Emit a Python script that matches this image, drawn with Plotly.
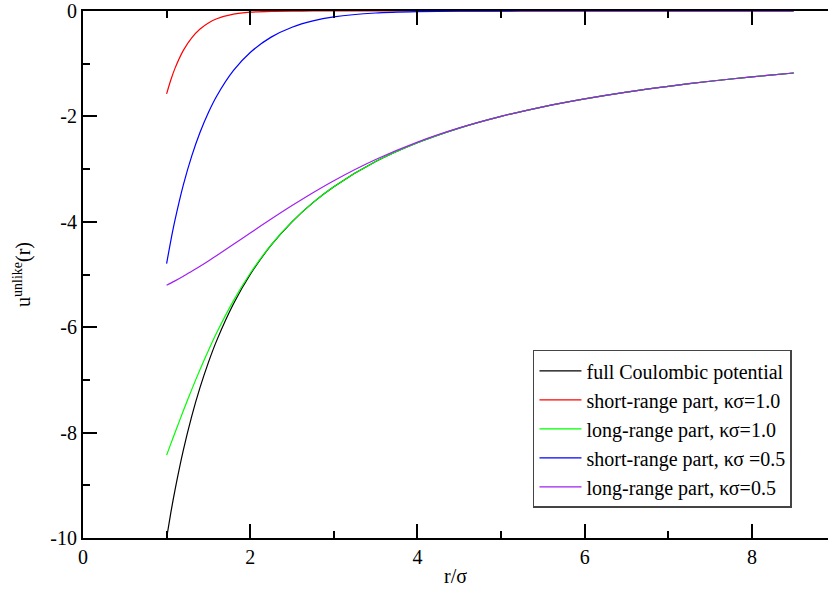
import plotly.graph_objects as go

# Separation r/sigma at which the potentials are tabulated
r = [1.0, 1.05, 1.1, 1.2, 1.3, 1.4, 1.5, 1.6, 1.8, 2.0, 2.25, 2.5, 2.75,
     3.0, 3.5, 4.0, 4.5, 5.0, 5.5, 6.0, 6.5, 7.0, 7.5, 8.0, 8.5]

# Full Coulombic potential
u_full = [-10.0, -9.524, -9.091, -8.333, -7.692, -7.143, -6.667, -6.25, -5.556,
          -5.0, -4.444, -4.0, -3.636, -3.333, -2.857, -2.5, -2.222, -2.0,
          -1.818, -1.667, -1.538, -1.429, -1.333, -1.25, -1.176]

# Short-range part, kappa*sigma = 1.0
u_short_10 = [-1.573, -1.310, -1.089, -0.747, -0.508, -0.341, -0.226, -0.148,
              -0.061, -0.023, -0.0065, -0.0016, -0.0004, -0.0001, 0.0, 0.0,
              0.0, 0.0, 0.0, 0.0, 0.0, 0.0, 0.0, 0.0, 0.0]

# Long-range part, kappa*sigma = 1.0
u_long_10 = [-8.427, -8.214, -8.002, -7.586, -7.184, -6.802, -6.441, -6.102,
             -5.495, -4.977, -4.438, -3.998, -3.636, -3.333, -2.857, -2.5,
             -2.222, -2.0, -1.818, -1.667, -1.538, -1.429, -1.333, -1.25, -1.176]

# Short-range part, kappa*sigma = 0.5
u_short_05 = [-4.795, -4.360, -3.970, -3.301, -2.754, -2.301, -1.925, -1.612,
              -1.128, -0.787, -0.496, -0.308, -0.188, -0.113, -0.038, -0.0117,
              -0.0032, -0.0008, -0.0002, 0.0, 0.0, 0.0, 0.0, 0.0, 0.0]

# Long-range part, kappa*sigma = 0.5
u_long_05 = [-5.205, -5.164, -5.121, -5.032, -4.938, -4.842, -4.742, -4.638,
             -4.428, -4.213, -3.948, -3.692, -3.448, -3.220, -2.819, -2.488,
             -2.219, -1.999, -1.818, -1.667, -1.538, -1.429, -1.333, -1.25, -1.176]

series = [
    ("full Coulombic potential", u_full, "#000000"),
    ("short-range part, κσ=1.0", u_short_10, "#ff0000"),
    ("long-range part, κσ=1.0", u_long_10, "#00ff00"),
    ("short-range part, κσ =0.5", u_short_05, "#0000ff"),
    ("long-range part, κσ=0.5", u_long_05, "#a020f0"),
]

x_ticks = [0, 2, 4, 6, 8]
x_ticktext = ["0", "2", "4", "6", "8"]
y_ticks = [0, -2, -4, -6, -8, -10]
y_ticktext = ["0", "-2", "-4", "-6", "-8", "-10"]

FONT = "Liberation Serif"

fig = go.Figure()
for name, vals, color in series:
    fig.add_trace(go.Scatter(
        x=r, y=vals, name=name, mode="lines",
        line=dict(color=color, width=1.2, shape="spline", smoothing=0.8),
    ))

axis_common = dict(
    showgrid=False, zeroline=False,
    showline=True, linecolor="black", linewidth=2,
    ticks="inside", ticklen=14, tickwidth=1.5, tickcolor="black",
    tickfont=dict(family=FONT, size=20, color="black"),
    minor=dict(ticks="inside", ticklen=7, tickwidth=1.5, tickcolor="black", dtick=1),
)

fig.update_layout(
    width=828, height=589,
    margin=dict(l=83, r=0, t=11, b=51),
    paper_bgcolor="white", plot_bgcolor="white",
    font=dict(family=FONT, size=20, color="black"),
    xaxis=dict(
        range=[0, 8.91], tickvals=x_ticks, ticktext=x_ticktext, mirror="ticks",
        title=dict(text="r/σ", font=dict(family=FONT, size=20), standoff=2),
        **axis_common,
    ),
    yaxis=dict(
        range=[-10, 0], tickvals=y_ticks, ticktext=y_ticktext, mirror=False,
        title=dict(text="u<sup>unlike</sup>(r)", font=dict(family=FONT, size=20), standoff=14),
        **axis_common,
    ),
    legend=dict(
        x=0.604, y=0.357, xanchor="left", yanchor="top",
        bgcolor="white", bordercolor="#444444", borderwidth=1.5,
        font=dict(family=FONT, size=20, color="black"),
        tracegroupgap=0, itemwidth=42,
    ),
    showlegend=True,
)

fig.write_html("out.html")
